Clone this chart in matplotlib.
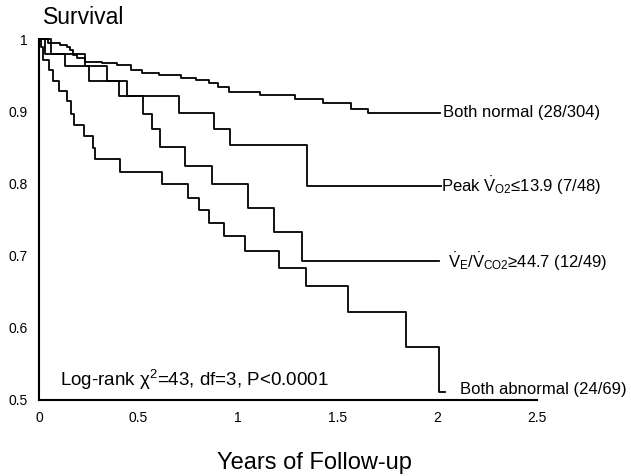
import matplotlib
matplotlib.use("Agg")
import matplotlib.pyplot as plt

plt.rcParams["font.family"] = ["Liberation Sans", "DejaVu Sans"]
plt.rcParams["mathtext.fontset"] = "custom"
plt.rcParams["mathtext.rm"] = "Liberation Sans"
plt.rcParams["mathtext.it"] = "Liberation Sans:italic"

# Kaplan-Meier step data (years, survival)
normal_t = [0, 0.047, 0.106, 0.14, 0.157, 0.173, 0.19, 0.232, 0.317, 0.392, 0.46, 0.519,
            0.603, 0.712, 0.788, 0.855, 0.897, 0.956, 1.108, 1.283, 1.424, 1.566, 1.652, 2.015]
normal_s = [1.0, 0.995, 0.992, 0.990, 0.985, 0.978, 0.974, 0.969, 0.967, 0.964, 0.957, 0.953,
            0.950, 0.947, 0.943, 0.939, 0.934, 0.927, 0.923, 0.917, 0.912, 0.904, 0.898, 0.898]

peak_t = [0, 0.03, 0.229, 0.342, 0.443, 0.704, 0.877, 0.961, 1.343, 2.017]
peak_s = [1.0, 0.979, 0.963, 0.942, 0.921, 0.898, 0.876, 0.854, 0.797, 0.797]

ve_t = [0, 0.06, 0.131, 0.249, 0.40, 0.52, 0.566, 0.606, 0.734, 0.869, 1.049, 1.18, 1.318, 2.01]
ve_s = [1.0, 0.979, 0.963, 0.942, 0.921, 0.897, 0.875, 0.851, 0.825, 0.80, 0.766, 0.733, 0.692, 0.692]

abn_t = [0, 0.01, 0.02, 0.051, 0.072, 0.101, 0.14, 0.162, 0.178, 0.224, 0.269, 0.279, 0.409,
         0.62, 0.746, 0.801, 0.852, 0.931, 1.032, 1.205, 1.338, 1.549, 1.84, 2.008, 2.04]
abn_s = [1.0, 0.99, 0.972, 0.957, 0.942, 0.928, 0.914, 0.897, 0.881, 0.866, 0.850, 0.834, 0.816,
         0.799, 0.780, 0.763, 0.745, 0.727, 0.707, 0.683, 0.658, 0.622, 0.574, 0.511, 0.511]

curve_labels = [
    "Both normal (28/304)",
    r"Peak $\dot{\mathrm{V}}_{\mathrm{O2}}$≤13.9 (7/48)",
    r"$\dot{\mathrm{V}}_{\mathrm{E}}/\dot{\mathrm{V}}_{\mathrm{CO2}}$≥44.7 (12/49)",
    "Both abnormal (24/69)",
]
label_x = [2.03, 2.02, 2.055, 2.115]
label_y = [0.898, 0.797, 0.692, 0.514]

x_ticks = [0, 0.5, 1, 1.5, 2, 2.5]
x_ticklabels = ["0", "0.5", "1", "1.5", "2", "2.5"]
y_ticks = [0.5, 0.6, 0.7, 0.8, 0.9, 1.0]
y_ticklabels = ["0.5", "0.6", "0.7", "0.8", "0.9", "1"]

fig = plt.figure(figsize=(6.31, 4.76), dpi=100)
ax = fig.add_axes([0.0618, 0.1597, 0.851 - 0.0618, 0.9174 - 0.1597])

for t, s in [(normal_t, normal_s), (peak_t, peak_s), (ve_t, ve_s), (abn_t, abn_s)]:
    ax.step(t, s, where="post", color="black", lw=1.3, clip_on=False)

for txt, x, y in zip(curve_labels, label_x, label_y):
    ax.text(x, y, txt, fontsize=12, va="center", ha="left", clip_on=False)

ax.text(0.105, 0.528, "Log-rank χ$^2$=43, df=3, P<0.0001", fontsize=13.5, va="center")

ax.set_xlim(0, 2.5)
ax.set_ylim(0.5, 1.0)
ax.set_xticks(x_ticks)
ax.set_xticklabels(x_ticklabels)
ax.set_yticks(y_ticks)
ax.set_yticklabels(y_ticklabels)
ax.tick_params(length=0, labelsize=10, pad=8)

for side in ["top", "right"]:
    ax.spines[side].set_visible(False)
for side in ["left", "bottom"]:
    ax.spines[side].set_linewidth(1.5)

fig.text(0.068, 0.964, "Survival", fontsize=16.5, va="center", ha="left")
fig.text(0.498, 0.027, "Years of Follow-up", fontsize=17, va="center", ha="center")

fig.savefig("out.png", dpi=100)
